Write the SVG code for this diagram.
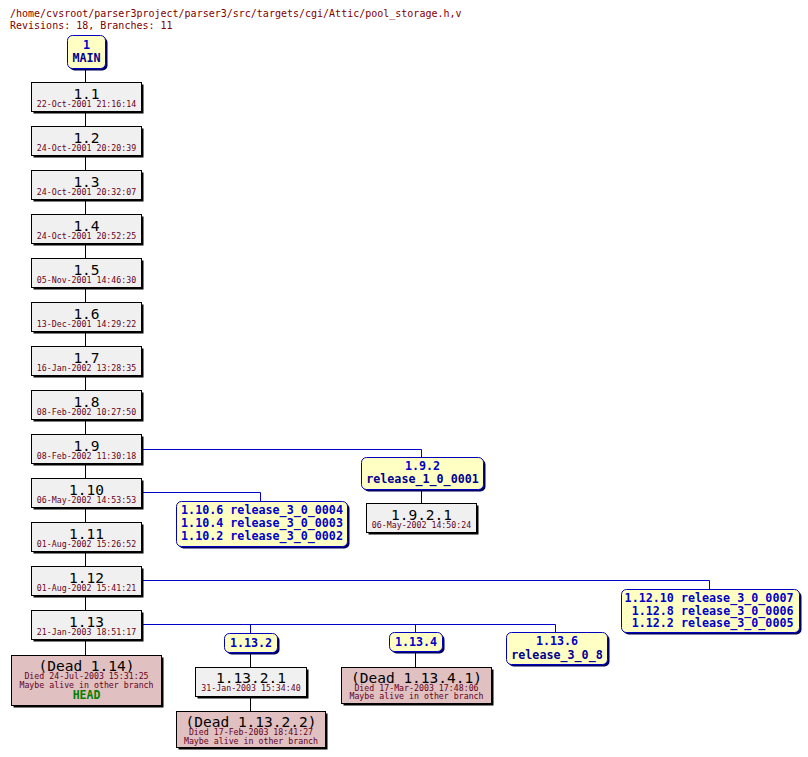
<svg xmlns="http://www.w3.org/2000/svg" width="808" height="757" viewBox="0 0 808 757">
<style>
text{font-family:"DejaVu Sans Mono","Liberation Mono",monospace}
.hdr{font-size:10px;fill:#800000}
.rev rect.b{fill:#f0f0f0;stroke:#000;stroke-width:1}
.sh{fill:#000}
.bsh{fill:#000060}
.br rect.b{fill:#ffffc4;stroke:#0000c0;stroke-width:1}
.dead rect.b{fill:#e0c0c0;stroke:#000;stroke-width:1}
.t{font-size:14.5px;fill:#000;text-anchor:middle}
.d{font-size:8.25px;fill:#660022;text-anchor:middle}
.bl{font-size:11.7px;font-weight:bold;fill:#0000c8;text-anchor:middle}
.bn{font-size:11.7px;font-weight:bold;fill:#000090;text-anchor:middle}
.head{font-size:11.5px;font-weight:bold;fill:#008000;text-anchor:middle}
.cb{stroke:#000;stroke-width:1;fill:none}
.cu{stroke:#0000c8;stroke-width:1;fill:none}
</style>
<rect width="808" height="757" fill="#fff"/>
<text class="hdr" x="10" y="16.5">/home/cvsroot/parser3project/parser3/src/targets/cgi/Attic/pool_storage.h,v</text>
<text class="hdr" x="10" y="28.5">Revisions: 18, Branches: 11</text>
<g id="connectors">
<path class="cb" d="M85.5 68V655M421.5 489V503M250.5 652V667M250.5 696V711M415.5 651V667"/>
<path class="cu" d="M141 449.5H421.5V457M141 492.5H260.5V501M141 580.5H709.5V589M141 624.5H555.5V632M250.5 624.5V633M415.5 624.5V632"/>
</g>
<g id="MAIN" class="br"><rect class="bsh" x="69.5" y="37.5" width="38" height="33" rx="5"/><rect class="b" x="67.5" y="35.5" width="38" height="33" rx="5"/><text class="bl" x="86.5" y="48.5">1</text><text class="bn" x="86.5" y="62">MAIN</text></g>
<g id="r1.1" class="rev"><rect class="sh" x="33.5" y="84.5" width="110" height="29"/><rect class="b" x="31.5" y="82.5" width="110" height="29"/><text class="t" x="86.5" y="98.5">1.1</text><text class="d" x="86.5" y="106.5">22-Oct-2001 21:16:14</text></g>
<g id="r1.2" class="rev"><rect class="sh" x="33.5" y="128.5" width="110" height="29"/><rect class="b" x="31.5" y="126.5" width="110" height="29"/><text class="t" x="86.5" y="142.5">1.2</text><text class="d" x="86.5" y="150.5">24-Oct-2001 20:20:39</text></g>
<g id="r1.3" class="rev"><rect class="sh" x="33.5" y="172.5" width="110" height="29"/><rect class="b" x="31.5" y="170.5" width="110" height="29"/><text class="t" x="86.5" y="186.5">1.3</text><text class="d" x="86.5" y="194.5">24-Oct-2001 20:32:07</text></g>
<g id="r1.4" class="rev"><rect class="sh" x="33.5" y="216.5" width="110" height="29"/><rect class="b" x="31.5" y="214.5" width="110" height="29"/><text class="t" x="86.5" y="230.5">1.4</text><text class="d" x="86.5" y="238.5">24-Oct-2001 20:52:25</text></g>
<g id="r1.5" class="rev"><rect class="sh" x="33.5" y="260.5" width="110" height="29"/><rect class="b" x="31.5" y="258.5" width="110" height="29"/><text class="t" x="86.5" y="274.5">1.5</text><text class="d" x="86.5" y="282.5">05-Nov-2001 14:46:30</text></g>
<g id="r1.6" class="rev"><rect class="sh" x="33.5" y="304.5" width="110" height="29"/><rect class="b" x="31.5" y="302.5" width="110" height="29"/><text class="t" x="86.5" y="318.5">1.6</text><text class="d" x="86.5" y="326.5">13-Dec-2001 14:29:22</text></g>
<g id="r1.7" class="rev"><rect class="sh" x="33.5" y="348.5" width="110" height="29"/><rect class="b" x="31.5" y="346.5" width="110" height="29"/><text class="t" x="86.5" y="362.5">1.7</text><text class="d" x="86.5" y="370.5">16-Jan-2002 13:28:35</text></g>
<g id="r1.8" class="rev"><rect class="sh" x="33.5" y="392.5" width="110" height="29"/><rect class="b" x="31.5" y="390.5" width="110" height="29"/><text class="t" x="86.5" y="406.5">1.8</text><text class="d" x="86.5" y="414.5">08-Feb-2002 10:27:50</text></g>
<g id="r1.9" class="rev"><rect class="sh" x="33.5" y="436.5" width="110" height="29"/><rect class="b" x="31.5" y="434.5" width="110" height="29"/><text class="t" x="86.5" y="450.5">1.9</text><text class="d" x="86.5" y="458.5">08-Feb-2002 11:30:18</text></g>
<g id="r1.10" class="rev"><rect class="sh" x="33.5" y="480.5" width="110" height="29"/><rect class="b" x="31.5" y="478.5" width="110" height="29"/><text class="t" x="86.5" y="494.5">1.10</text><text class="d" x="86.5" y="502.5">06-May-2002 14:53:53</text></g>
<g id="r1.11" class="rev"><rect class="sh" x="33.5" y="524.5" width="110" height="29"/><rect class="b" x="31.5" y="522.5" width="110" height="29"/><text class="t" x="86.5" y="538.5">1.11</text><text class="d" x="86.5" y="546.5">01-Aug-2002 15:26:52</text></g>
<g id="r1.12" class="rev"><rect class="sh" x="33.5" y="568.5" width="110" height="29"/><rect class="b" x="31.5" y="566.5" width="110" height="29"/><text class="t" x="86.5" y="582.5">1.12</text><text class="d" x="86.5" y="590.5">01-Aug-2002 15:41:21</text></g>
<g id="r1.13" class="rev"><rect class="sh" x="33.5" y="612.5" width="110" height="29"/><rect class="b" x="31.5" y="610.5" width="110" height="29"/><text class="t" x="86.5" y="626.5">1.13</text><text class="d" x="86.5" y="634.5">21-Jan-2003 18:51:17</text></g>
<g id="dead1.14" class="dead"><rect class="sh" x="13.5" y="657.5" width="150" height="50"/><rect class="b" x="11.5" y="655.5" width="150" height="50"/><text class="t" x="86.5" y="670.5">(Dead 1.14)</text><text class="d" x="86.5" y="679">Died 24-Jul-2003 15:31:25</text><text class="d" x="86.5" y="687.5">Maybe alive in other branch</text><text class="head" x="86.5" y="698.5">HEAD</text></g>
<g id="b1.9.2" class="br"><rect class="bsh" x="363.5" y="459.5" width="122" height="32" rx="5"/><rect class="b" x="361.5" y="457.5" width="122" height="32" rx="5"/><text class="bl" x="422.5" y="469.5">1.9.2</text><text class="bn" x="422.5" y="482.5">release_1_0_0001</text></g>
<g id="r1.9.2.1" class="rev"><rect class="sh" x="368.5" y="505.5" width="110" height="29"/><rect class="b" x="366.5" y="503.5" width="110" height="29"/><text class="t" x="421.5" y="519.5">1.9.2.1</text><text class="d" x="421.5" y="527.5">06-May-2002 14:50:24</text></g>
<g id="b1.10" class="br"><rect class="bsh" x="178.5" y="503.5" width="171" height="45" rx="5"/><rect class="b" x="176.5" y="501.5" width="171" height="45" rx="5"/><text class="bl" x="262" y="513.5">1.10.6 release_3_0_0004</text><text class="bl" x="262" y="526.5">1.10.4 release_3_0_0003</text><text class="bl" x="262" y="539.5">1.10.2 release_3_0_0002</text></g>
<g id="b1.12" class="br"><rect class="bsh" x="623.5" y="591.5" width="178" height="43" rx="5"/><rect class="b" x="621.5" y="589.5" width="178" height="43" rx="5"/><text class="bl" style="text-anchor:end" x="793.5" y="601.5">1.12.10 release_3_0_0007</text><text class="bl" style="text-anchor:end" x="793.5" y="614.5">1.12.8 release_3_0_0006</text><text class="bl" style="text-anchor:end" x="793.5" y="627">1.12.2 release_3_0_0005</text></g>
<g id="b1.13.2" class="br"><rect class="bsh" x="226.5" y="635.5" width="53" height="19" rx="5"/><rect class="b" x="224.5" y="633.5" width="53" height="19" rx="5"/><text class="bl" x="251" y="646.5">1.13.2</text></g>
<g id="r1.13.2.1" class="rev"><rect class="sh" x="197.5" y="669.5" width="111" height="29"/><rect class="b" x="195.5" y="667.5" width="111" height="29"/><text class="t" x="251" y="683">1.13.2.1</text><text class="d" x="251" y="690.5">31-Jan-2003 15:34:40</text></g>
<g id="dead1.13.2.2" class="dead"><rect class="sh" x="178.5" y="713.5" width="149" height="36"/><rect class="b" x="176.5" y="711.5" width="149" height="36"/><text class="t" x="251" y="726.5">(Dead 1.13.2.2)</text><text class="d" x="251" y="735">Died 17-Feb-2003 18:41:27</text><text class="d" x="251" y="743.5">Maybe alive in other branch</text></g>
<g id="b1.13.4" class="br"><rect class="bsh" x="391.5" y="634.5" width="53" height="19" rx="5"/><rect class="b" x="389.5" y="632.5" width="53" height="19" rx="5"/><text class="bl" x="416" y="646">1.13.4</text></g>
<g id="dead1.13.4.1" class="dead"><rect class="sh" x="343.5" y="669.5" width="150" height="36"/><rect class="b" x="341.5" y="667.5" width="150" height="36"/><text class="t" x="416.5" y="682.5">(Dead 1.13.4.1)</text><text class="d" x="416.5" y="690.5">Died 17-Mar-2003 17:48:06</text><text class="d" x="416.5" y="699">Maybe alive in other branch</text></g>
<g id="b1.13.6" class="br"><rect class="bsh" x="508.5" y="634.5" width="101" height="32" rx="5"/><rect class="b" x="506.5" y="632.5" width="101" height="32" rx="5"/><text class="bl" x="557" y="645">1.13.6</text><text class="bn" x="557" y="658.5">release_3_0_8</text></g>
</svg>
